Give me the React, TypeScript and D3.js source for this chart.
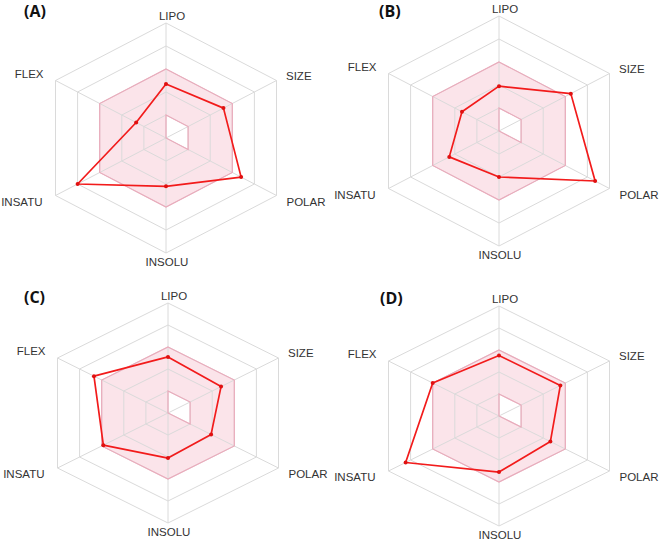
import React from "react";
import * as d3 from "d3";

const axes = ["LIPO", "SIZE", "POLAR", "INSOLU", "INSATU", "FLEX"];
const panelLabels = ["(A)", "(B)", "(C)", "(D)"];
const valuesA = [0.47, 0.52, 0.68, 0.42, 0.8, 0.27];
const valuesB = [0.39, 0.65, 0.87, 0.4, 0.45, 0.335];
const valuesC = [0.51, 0.48, 0.39, 0.41, 0.585, 0.67];
const valuesD = [0.55, 0.555, 0.465, 0.51, 0.845, 0.6];
const gridLevels = [0.2, 0.4, 0.6, 0.8, 1.0];
const optimalUpper = [0.6, 0.6, 0.6, 0.6, 0.6, 0.6];
const optimalLower = [0.2, 0.2, 0.2, 0, 0, 0];

const series = [valuesA, valuesB, valuesC, valuesD];

// layout
const layout = [
  { cx: 166, cy: 138, ry: 115, hx: 110.5, lx: 24, ly: 17 },
  { cx: 499, cy: 131, ry: 115, hx: 110.5, lx: 379, ly: 17 },
  { cx: 168, cy: 413, ry: 110, hx: 110.5, lx: 24, ly: 302.5 },
  { cx: 499, cy: 416, ry: 110, hx: 110.5, lx: 380, ly: 304 },
];

const labelPlacement = [
  { anchor: "middle", dx: 6, dy: -3 },
  { anchor: "start", dx: 9.5, dy: -1 },
  { anchor: "start", dx: 10, dy: 10 },
  { anchor: "middle", dx: 1, dy: 13 },
  { anchor: "end", dx: -13, dy: 10 },
  { anchor: "end", dx: -12, dy: -3 },
];

function Radar({ idx }: { idx: number }) {
  const L = layout[idx];
  const values = series[idx];
  const angle = d3
    .scaleLinear()
    .domain([0, axes.length])
    .range([0, 2 * Math.PI]);
  const rY = d3.scaleLinear().domain([0, 1]).range([0, L.ry]);
  const rX = d3.scaleLinear().domain([0, 1]).range([0, L.hx / Math.sin(Math.PI / 3)]);
  const pt = (i: number, v: number): [number, number] => {
    const a = angle(i);
    return [L.cx + Math.sin(a) * rX(v), L.cy - Math.cos(a) * rY(v)];
  };
  const line = d3.line().curve(d3.curveLinearClosed);
  const ringPath = (vals: number[]) => line(vals.map((v, i) => pt(i, v))) as string;

  const optPath = ringPath(optimalUpper) + ringPath(optimalLower);
  const dataPts = values.map((v, i) => pt(i, v));

  return (
    <g>
      <path d={optPath} fill="#fbe4ea" fillRule="evenodd" stroke="none" />
      {gridLevels.map((g) => (
        <path key={g} d={ringPath(axes.map(() => g))} fill="none" stroke="#dadada" strokeWidth={1} />
      ))}
      {axes.map((a, i) => {
        const [x, y] = pt(i, 1);
        return <line key={a} x1={L.cx} y1={L.cy} x2={x} y2={y} stroke="#dadada" strokeWidth={1} />;
      })}
      <path d={optPath} fill="none" stroke="#ebaabb" strokeWidth={1.2} />
      <path d={line(dataPts) as string} fill="none" stroke="#f21b1b" strokeWidth={1.7} strokeLinejoin="round" />
      {dataPts.map(([x, y], i) => (
        <circle key={i} cx={x} cy={y} r={2} fill="#e01010" />
      ))}
      {axes.map((a, i) => {
        const [x, y] = pt(i, 1);
        const p = labelPlacement[i];
        return (
          <text
            key={a}
            x={x + p.dx}
            y={y + p.dy}
            textAnchor={p.anchor as any}
            fontFamily="'Liberation Sans', Arial, sans-serif"
            fontSize={11.5}
            fill="#333"
          >
            {a}
          </text>
        );
      })}
      <text
        x={L.lx}
        y={L.ly}
        fontFamily="'Open Sans', 'Liberation Sans', Arial, sans-serif"
        fontWeight="bold"
        fontSize={16}
        fill="#111"
      >
        {panelLabels[idx]}
      </text>
    </g>
  );
}

export default function App() {
  return (
    <svg
      width={661}
      height={541}
      viewBox="0 0 661 541"
      style={{ position: "absolute", left: 0, top: 0, background: "#fff" }}
    >
      <rect x={0} y={0} width={661} height={541} fill="#fff" />
      {series.map((_, i) => (
        <Radar key={i} idx={i} />
      ))}
    </svg>
  );
}
